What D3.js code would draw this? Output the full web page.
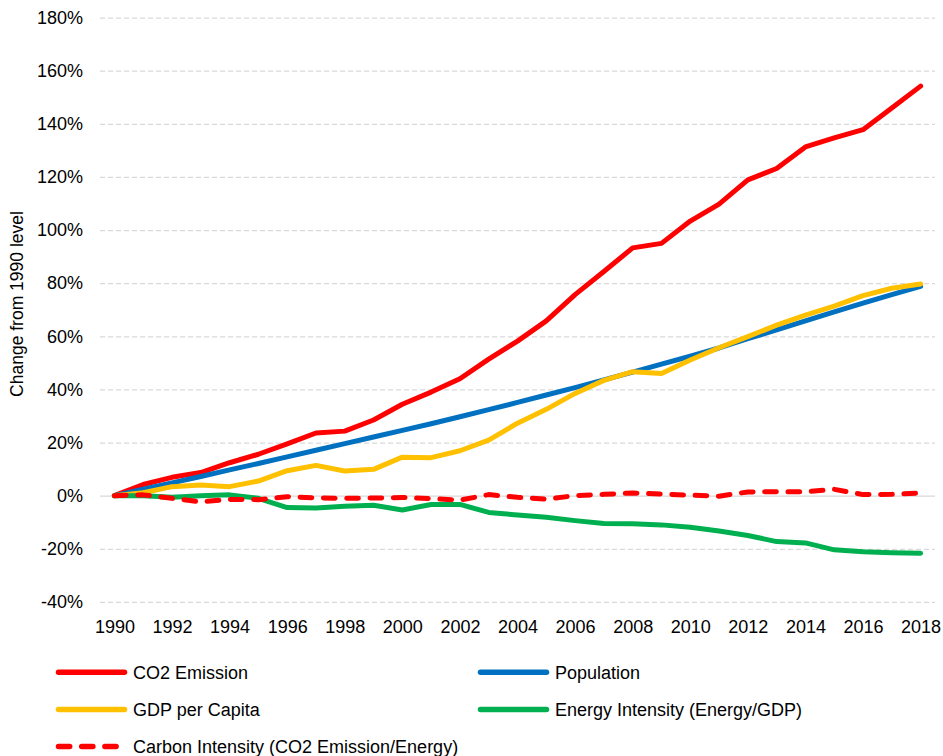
<!DOCTYPE html>
<html>
<head>
<meta charset="utf-8">
<script src="https://cdn.jsdelivr.net/npm/d3@7"></script>
<style>
  body { margin: 0; background: #fff; }
  svg { display: block; font-family: "Liberation Sans", Arial, sans-serif; }
</style>
</head>
<body>
<svg id="chart" width="943" height="756"></svg>
<script>
const years = [1990,1991,1992,1993,1994,1995,1996,1997,1998,1999,2000,2001,2002,2003,2004,2005,2006,2007,2008,2009,2010,2011,2012,2013,2014,2015,2016,2017,2018];
const co2Emission = [0,4.2,6.9,8.7,12.4,15.6,19.5,23.6,24.3,28.5,34.4,39.0,44.0,51.4,58.2,65.8,75.7,84.4,93.3,95.0,103.4,109.8,118.9,123.2,131.3,134.7,137.8,146.0,154.2];
const population = [0,2.4,4.8,7.2,9.7,12.1,14.6,17.1,19.6,22.1,24.6,27.1,29.7,32.4,35.1,37.9,40.7,43.6,46.5,49.5,52.5,55.6,59.1,62.4,65.8,69.2,72.5,75.7,78.8];
const gdpPerCapita = [0,1.1,3.4,4.0,3.4,5.5,9.4,11.4,9.3,9.9,14.5,14.3,16.9,20.9,27.3,32.5,38.5,43.4,46.7,46.0,51.1,55.7,59.9,64.2,68.0,71.4,75.3,78.1,79.7];
const energyIntensity = [0,0,-0.6,0,0.3,-1.0,-4.5,-4.6,-4.0,-3.6,-5.4,-3.3,-3.3,-6.3,-7.3,-8.1,-9.4,-10.5,-10.6,-11.0,-11.9,-13.3,-15.0,-17.3,-17.8,-20.4,-21.1,-21.5,-21.7];
const carbonIntensity = [0,0.3,-1.0,-2.3,-1.4,-1.5,-0.4,-0.8,-1.0,-0.9,-0.7,-1.1,-1.7,0.4,-0.6,-1.3,0.0,0.5,1.0,0.6,0.2,-0.2,1.4,1.5,1.5,2.4,0.4,0.5,1.0];
const yTicks = [-40,-20,0,20,40,60,80,100,120,140,160,180];
const xTickLabels = [1990,1992,1994,1996,1998,2000,2002,2004,2006,2008,2010,2012,2014,2016,2018];
const seriesNames = ["CO2 Emission","Population","GDP per Capita","Energy Intensity (Energy/GDP)","Carbon Intensity (CO2 Emission/Energy)"];
const seriesColors = ["#FF0000","#0070C0","#FFC000","#00B050","#FF0000"];
const seriesDashed = [false,false,false,false,true];
const seriesValues = [co2Emission,population,gdpPerCapita,energyIntensity,carbonIntensity];

(function () {
const svg = d3.select("#chart");
const pLeft = 100, pRight = 935, pTop = 17.6, pBottom = 601.9;
const x = d3.scalePoint().domain(years).range([pLeft, pRight]).padding(0.5);
const y = d3.scaleLinear().domain([-40, 180]).range([pBottom, pTop]);

// gridlines + y labels
const yAxis = d3.axisLeft(y).tickValues(yTicks).tickFormat(d => d + "%").tickSize(-(pRight - pLeft)).tickPadding(17);
const gy = svg.append("g").attr("transform", `translate(${pLeft},0)`).call(yAxis);
gy.select(".domain").remove();
gy.selectAll(".tick line")
  .attr("stroke", "#D9D9D9").attr("stroke-width", 1.3)
  .attr("stroke-dasharray", d => d === 0 ? null : "5,3");
gy.selectAll(".tick text")
  .attr("font-size", "18px").attr("fill", "#000")
  .attr("font-family", "'Liberation Sans', Arial, sans-serif");

// x axis labels
const xAxis = d3.axisBottom(x).tickValues(xTickLabels).tickSize(0).tickPadding(0);
const gx = svg.append("g").attr("transform", `translate(0,${pBottom})`).call(xAxis);
gx.select(".domain").remove();
gx.selectAll(".tick text")
  .attr("font-size", "18px").attr("fill", "#000")
  .attr("font-family", "'Liberation Sans', Arial, sans-serif")
  .attr("dy", null).attr("y", 31);

// y title
svg.append("text")
  .attr("transform", "translate(23,304) rotate(-90)")
  .attr("text-anchor", "middle")
  .attr("font-size", "17.5px")
  .text("Change from 1990 level");

// lines
const line = d3.line().x((d, i) => x(years[i])).y(d => y(d)).curve(d3.curveLinear);
seriesValues.forEach((vals, i) => {
  svg.append("path")
    .datum(vals)
    .attr("d", line)
    .attr("fill", "none")
    .attr("stroke", seriesColors[i])
    .attr("stroke-width", 5)
    .attr("stroke-linejoin", "round")
    .attr("stroke-linecap", "round")
    .attr("stroke-dasharray", seriesDashed[i] ? "11.7,11.6" : null);
});

// legend
const legendPos = [
  {lx: 56, ly: 672.3},
  {lx: 478, ly: 672.3},
  {lx: 56, ly: 709.5},
  {lx: 478, ly: 709.5},
  {lx: 56, ly: 746.5}
];
seriesNames.forEach((name, i) => {
  const p = legendPos[i];
  const g = svg.append("g");
  g.append("line")
    .attr("x1", p.lx + 2.5).attr("x2", p.lx + 68.5)
    .attr("y1", p.ly).attr("y2", p.ly)
    .attr("stroke", seriesColors[i]).attr("stroke-width", 5.5)
    .attr("stroke-linecap", "round")
    .attr("stroke-dasharray", seriesDashed[i] ? "11.2,12" : null);
  g.append("text")
    .attr("x", p.lx + 77).attr("y", p.ly + 6.8)
    .attr("font-size", "18px")
    .text(name);
});
})();
</script>
</body>
</html>
